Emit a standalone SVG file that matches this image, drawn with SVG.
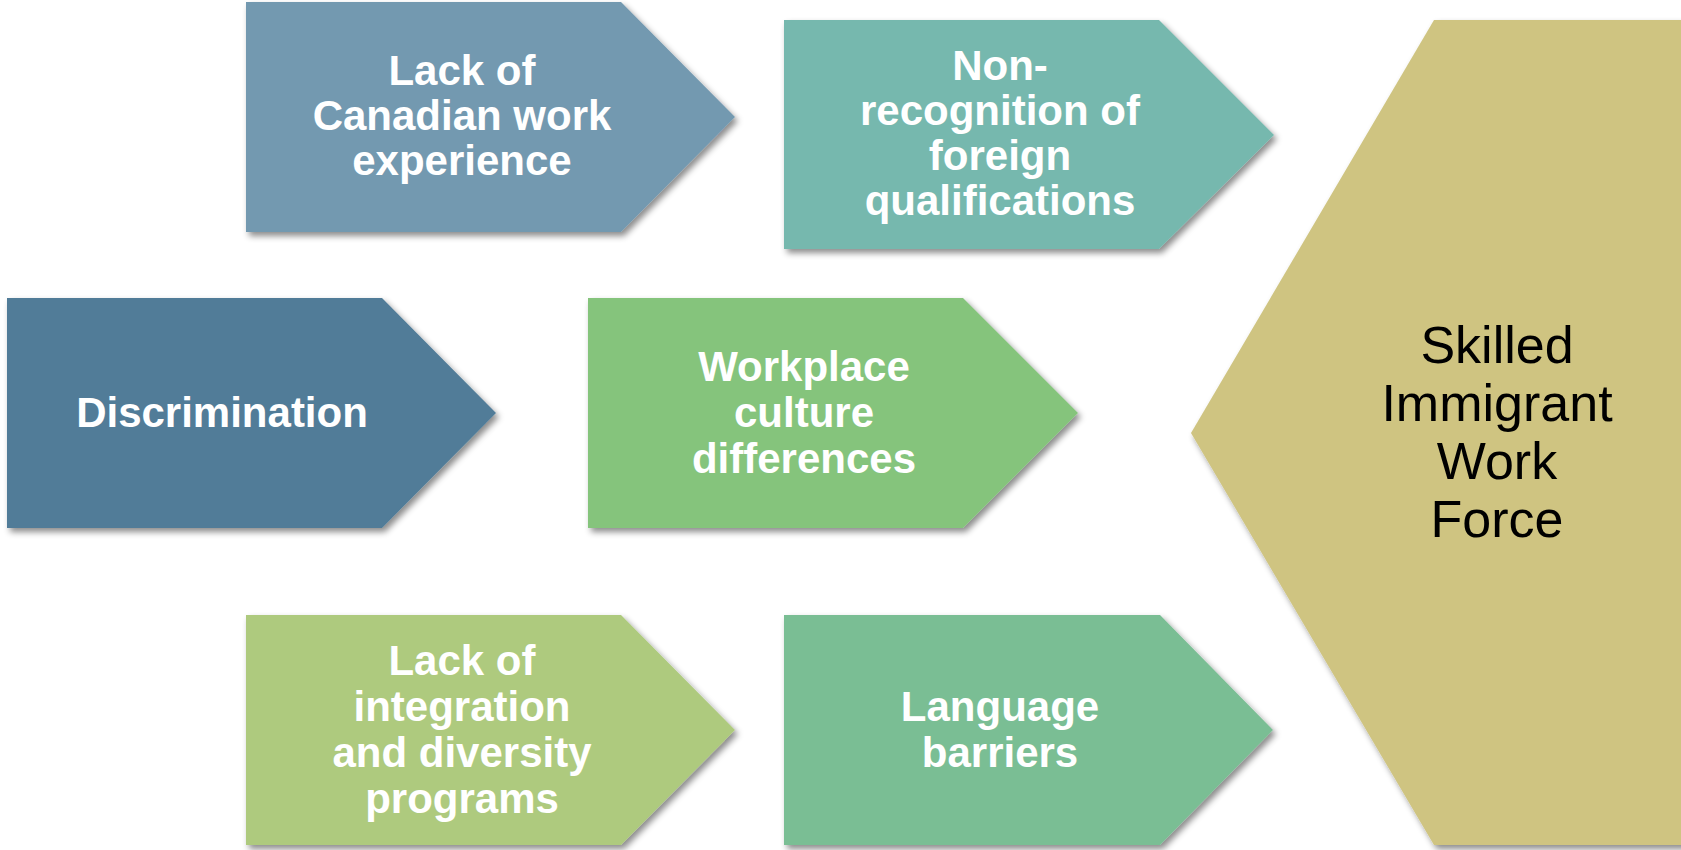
<svg xmlns="http://www.w3.org/2000/svg" width="1681" height="850" viewBox="0 0 1681 850">
<defs>
<filter id="sh" x="-10%" y="-10%" width="125%" height="125%">
<feDropShadow dx="3" dy="4" stdDeviation="3" flood-color="#000" flood-opacity="0.45"/>
</filter>
</defs>
<style>
.n{filter:url(#sh);}
.t{font-family:"Liberation Sans",Arial,sans-serif;font-weight:bold;font-size:42px;fill:#fff;text-anchor:middle;}
.b{font-family:"Liberation Sans",Arial,sans-serif;font-size:52px;fill:#000;text-anchor:middle;}
</style>
<rect width="1681" height="850" fill="#fff"/>
<g id="target">
<polygon class="n" points="1434,20 1690,20 1690,845 1434,845 1191,433" fill="#CFC481"/>
<text class="b" x="1497" y="363">Skilled</text>
<text class="b" x="1497" y="421">Immigrant</text>
<text class="b" x="1497" y="479">Work</text>
<text class="b" x="1497" y="537">Force</text>
</g>
<g id="canadian-experience">
<polygon class="n" points="246,2 621,2 735,117 621,232 246,232" fill="#7399B0"/>
<text class="t" x="462" y="85">Lack of</text>
<text class="t" x="462" y="130">Canadian work</text>
<text class="t" x="462" y="175">experience</text>
</g>
<g id="foreign-qualifications">
<polygon class="n" points="784,20 1159,20 1274,135 1159,249 784,249" fill="#76B8AE"/>
<text class="t" x="1000" y="80">Non-</text>
<text class="t" x="1000" y="125">recognition of</text>
<text class="t" x="1000" y="170">foreign</text>
<text class="t" x="1000" y="215">qualifications</text>
</g>
<g id="discrimination">
<polygon class="n" points="7,298 382,298 496,413 382,528 7,528" fill="#517C98"/>
<text class="t" x="222" y="427">Discrimination</text>
</g>
<g id="workplace-culture">
<polygon class="n" points="588,298 963,298 1078,413 963,528 588,528" fill="#85C47C"/>
<text class="t" x="804" y="381">Workplace</text>
<text class="t" x="804" y="427">culture</text>
<text class="t" x="804" y="473">differences</text>
</g>
<g id="integration-programs">
<polygon class="n" points="246,615 621,615 735,730 621,845 246,845" fill="#AECA7E"/>
<text class="t" x="462" y="675">Lack of</text>
<text class="t" x="462" y="721">integration</text>
<text class="t" x="462" y="767">and diversity</text>
<text class="t" x="462" y="813">programs</text>
</g>
<g id="language-barriers">
<polygon class="n" points="784,615 1160,615 1273,730 1160,845 784,845" fill="#7ABE94"/>
<text class="t" x="1000" y="721">Language</text>
<text class="t" x="1000" y="767">barriers</text>
</g>
<g id="connectors"></g>
</svg>
